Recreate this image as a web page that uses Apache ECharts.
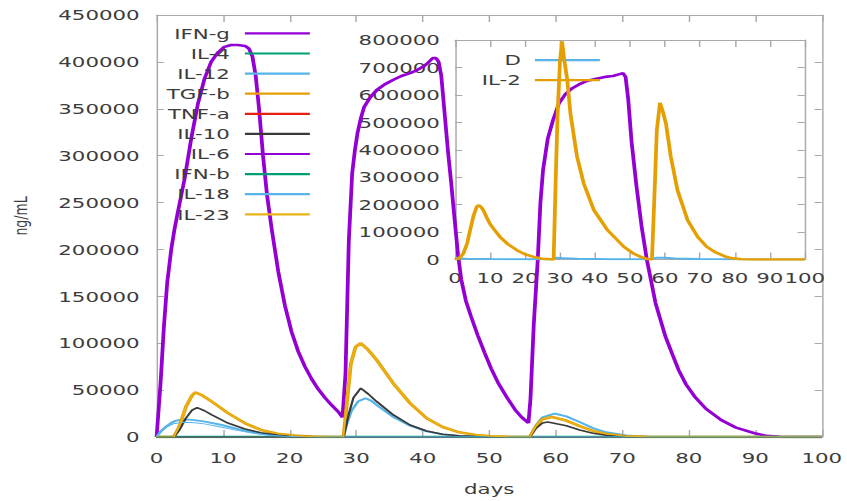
<!DOCTYPE html>
<html>
<head>
<meta charset="utf-8">
<script src="https://cdn.jsdelivr.net/npm/echarts@6/dist/echarts.min.js"></script>
<style>
  html, body { margin: 0; padding: 0; background: #fff; overflow: hidden; width: 847px; height: 501px; }
  /* the plot is laid out on a narrower canvas and widened, giving the wide gnuplot-style lettering */
  #chart { width: 584.14px; height: 501px; transform: scaleX(1.45); transform-origin: 0 0; }
</style>
</head>
<body>
<div id="chart"></div>
<script>
// ---- cytokine concentrations (ng/mL) over days, main panel ----
const mainNames = ['IFN-g', 'IL-4', 'IL-12', 'TGF-b', 'TNF-a', 'IL-10', 'IL-6', 'IFN-b', 'IL-18', 'IL-23'];

const ifnG = [
  [0,0],[0.6,58000],[1.1,118000],[1.6,165000],[2.2,200000],[2.7,222000],[3.2,240000],[4.2,275000],[5.2,318000],
  [6.2,355000],[7.2,382000],[8.2,400000],[9.2,410000],[10.2,416000],[11.2,418000],[12.2,418000],[13.3,417000],
  [13.9,414000],[14.4,406000],[14.9,385000],[15.4,350000],[16,300000],[16.6,258000],[17.3,222000],[18.3,176000],
  [19.3,140000],[20.3,112000],[21.3,91000],[22.3,75000],[23.3,62000],[24.3,51000],[25.3,42000],[26.3,34000],
  [27.3,27000],[27.95,21000],
  [28.4,68000],[28.9,210000],[29.4,281000],[29.8,305000],[30.2,324000],[30.7,340000],[31.2,352000],[32.1,362000],
  [33.1,370000],[34.3,376000],[35.6,381000],[36.8,385000],[38.1,388000],[39.1,391000],[40.1,395000],[40.8,399000],
  [41.5,404000],[42.0,404000],[42.4,400000],[42.8,385000],[43.3,345000],[43.8,305000],[44.3,270000],[44.8,232000],
  [45.3,195000],[45.8,168000],[46.5,145000],[47.3,128000],[48.3,108000],[49.3,90000],[50.3,73000],[51.4,57000],
  [52.6,43000],[53.9,29000],[54.9,21000],[55.9,15000],
  [56.2,40000],[56.7,120000],[57.3,189000],[57.7,250000],[58.1,285000],[58.8,318000],[59.6,338000],[60.5,356000],
  [61.5,366000],[62.5,372000],[63.5,376000],[64.8,380000],[66.1,382000],[67.4,384000],[68.6,385000],[69.6,387000],
  [70.1,388000],[70.5,384000],[70.9,360000],[71.4,315000],[72.1,270000],[72.9,225000],[73.7,189000],[75,143000],
  [76.5,107000],[77.6,87000],[78.5,71000],[79.6,56000],[80.9,43000],[82.6,30000],[84.9,18000],[87.1,10000],
  [89.9,4000],[91.7,1200],[93.7,300],[95.7,0],[100,0]
];

const il4 = [[0,0],[100,0]];

const il12 = [
  [0,0],[0.6,6000],[1.4,11000],[2.2,15000],[2.9,17400],[3.7,18500],[4.4,18800],[5.7,18000],[7.3,16400],[9.8,12800],
  [12.3,8200],[14.7,4600],[17.2,2100],[19.7,700],[22.2,200],[25,0],[28.1,0],
  [28.6,14000],[29.3,28000],[30.3,38000],[31.4,41300],[32.3,38500],[33.1,34000],[35.6,21300],[38.1,12100],
  [40.6,6000],[43,2800],[45.3,1200],[48.3,400],[52,0],[56.1,0],
  [57,12000],[58,21000],[59.8,25000],[61.6,22000],[63.6,16000],[65.6,9500],[67.6,5000],[70.6,1500],[73.6,300],
  [76.6,0],[100,0]
];

const tgfB = [
  [0,0],[2.6,0],[3.4,11000],[4.4,32000],[5.3,44000],[5.8,47500],[6.7,45000],[8.3,37700],[10.8,25200],[13.3,14600],
  [15.7,7500],[18.2,3500],[20.7,1500],[23.2,500],[26,0],[28.1,0],
  [28.7,43000],[29.2,78000],[29.9,96000],[30.7,100000],[31.8,93000],[33.1,82000],[35.6,57000],[38.1,36000],
  [40.6,20000],[43,10700],[45.5,5000],[48,2100],[50.3,800],[53,200],[56.1,0],
  [57,11000],[58,19000],[59.4,21300],[61.6,17500],[63.6,11500],[65.6,6500],[67.6,3200],[70.6,800],[73.6,100],
  [76,0],[100,0]
];

const tnfA = [[0,0],[100,0]];

const il10 = [
  [0,0],[2.6,0],[3.4,7000],[4.4,20000],[5.3,28500],[6.1,31300],[7.2,28000],[8.3,23500],[10.8,14600],[13.3,8500],
  [15.7,4600],[18.2,2100],[21.2,700],[24,100],[28.1,0],
  [28.5,12000],[28.9,25000],[29.6,42000],[30.7,52000],[31.8,46000],[33.1,37700],[35.6,23500],[38.1,12800],
  [40.6,6400],[43,3000],[45.5,1300],[48.3,400],[52,0],[56.1,0],
  [57,9000],[58,15000],[58.8,16000],[61.6,12000],[63.6,7500],[65.6,4000],[67.6,1800],[70.6,400],[73.6,0],[100,0]
];

const il6 = [[0,0],[100,0]];
const ifnB = [[0,0],[100,0]];

const il18 = [
  [0,0],[0.9,7000],[1.7,11500],[2.7,14500],[4.2,15800],[5.7,15300],[7.2,14000],[9.2,11200],[11.7,7600],
  [14.2,4400],[16.7,2100],[19.2,800],[22.2,200],[25,0],[100,0]
];

const il23 = [
  [0,0],[2.6,0],[3.4,11000],[4.4,32000],[5.3,44000],[5.8,47500],[6.7,45000],[8.3,37700],[10.8,25200],[13.3,14600],
  [15.7,7500],[18.2,3500],[20.7,1500],[23.2,500],[26,0],[28.1,0],
  [28.7,43000],[29.2,78000],[29.9,96000],[30.7,100000],[31.8,93000],[33.1,82000],[35.6,57000],[38.1,36000],
  [40.6,20000],[43,10700],[45.5,5000],[48,2100],[50.3,800],[53,200],[56.1,0],
  [57,11000],[58,19000],[59.4,21300],[61.6,17500],[63.6,11500],[65.6,6500],[67.6,3200],[70.6,800],[73.6,100],
  [76,0],[100,0]
];

// ---- inset panel: D and IL-2 ----
const insetNames = ['D', 'IL-2'];

const dLevel = [
  [0,6000],[3,3000],[10,1500],[20,800],[28,500],[29,6000],[31,5000],[35,2500],[45,1000],[56,600],
  [57.5,6000],[60,6500],[63,3500],[70,1500],[80,500],[100,0]
];

const il2 = [
  [0,0],[1,3000],[2.4,22000],[3.5,60000],[4.3,106000],[5.3,160000],[6.2,192000],[6.7,198000],[7.4,192000],
  [8.1,180000],[9,155000],[10,130000],[11.5,104000],[12.9,82000],[15,57000],[17.7,34000],[20,19000],[22.5,9500],
  [25,3000],[27.5,500],[28.2,0],[28.7,250000],[29.3,520000],[30,720000],[30.6,795000],[31.2,730000],[32.1,654000],
  [33,532000],[34.9,374000],[36.8,277000],[39.7,180000],[43.6,107000],[48.3,46000],[51,22000],[53.1,9500],
  [55,2000],[56.3,0],[57,228000],[57.7,472000],[58.6,571000],[59.4,540000],[60.3,496000],[61.7,374000],
  [63.6,253000],[66.5,143000],[69.4,82000],[72,46000],[74.2,28000],[77,12000],[79,5000],[82,1000],[85,0],[100,0]
];

// ---- axis ticks ----
const mainXTicks = { min: 0, max: 100, step: 10 };
const mainYTicks = { min: 0, max: 450000, step: 50000 };
const insetXTicks = { min: 0, max: 100, step: 10 };
const insetYTicks = { min: 0, max: 800000, step: 100000 };

// ---- styling ----
const FONT = 'DejaVu Sans';
const TEXT = '#3c3c3c';
const FRAME = '#a9a9a9';
const FS = 14.7;

const mainSeriesData = [ifnG, il4, il12, tgfB, tnfA, il10, il6, ifnB, il18, il23];
const mainColors = ['#9400d3', '#009e73', '#56b4e9', '#e69f00', '#e51e10', '#3a3a3a', '#9400d3', '#009e73', '#56b4e9', '#e8b418'];
const mainWidths = [2.6, 2.6, 2, 2.6, 2.2, 1.6, 1, 1.4, 1, 1.2];

const insetSeriesData = [dLevel, il2];
const insetColors = ['#56b4e9', '#e69f00'];
const insetWidths = [2, 2.6];

function valueAxis(extra, ticks, tickLen, showLabel, labelMargin) {
  return Object.assign({
    type: 'value',
    min: ticks.min,
    max: ticks.max,
    interval: ticks.step,
    axisLine: { show: true, onZero: false, lineStyle: { color: FRAME, width: 1 } },
    axisTick: { show: true, inside: true, length: tickLen, lineStyle: { color: FRAME, width: 1 } },
    axisLabel: {
      show: showLabel, margin: labelMargin, color: TEXT, fontFamily: FONT, fontSize: FS,
      formatter: v => String(v)
    },
    splitLine: { show: false }
  }, extra);
}

function lineSeries(name, data, color, width, xi, yi, z) {
  return {
    name: name,
    type: 'line',
    data: data,
    xAxisIndex: xi,
    yAxisIndex: yi,
    symbol: 'none',
    showSymbol: false,
    smooth: false,
    z: z,
    lineStyle: { color: color, width: width },
    itemStyle: { color: color },
    emphasis: { disabled: true }
  };
}

const series = [];
mainNames.forEach((n, i) => series.push(lineSeries(n, mainSeriesData[i], mainColors[i], mainWidths[i], 0, 0, 2)));
insetNames.forEach((n, i) => series.push(lineSeries(n, insetSeriesData[i], insetColors[i], insetWidths[i], 2, 2, 4)));

// legend keys are short horizontal strokes in each series colour
function legendKeys(names, colors) {
  return names.map((n, i) => ({
    name: n,
    icon: 'rect',
    itemStyle: { color: colors[i] }
  }));
}

const option = {
  animation: false,
  backgroundColor: '#ffffff',
  grid: [
    { left: 104.14, right: 17.24, top: 15, bottom: 64 },
    { left: 313.8, right: 28.97, top: 40, bottom: 241.5 }
  ],
  xAxis: [
    valueAxis({ gridIndex: 0, position: 'bottom', name: 'days', nameLocation: 'middle', nameGap: 44,
      nameTextStyle: { color: TEXT, fontFamily: FONT, fontSize: FS } }, mainXTicks, 7, true, 13),
    valueAxis({ gridIndex: 0, position: 'top' }, mainXTicks, 7, false, 8),
    valueAxis({ gridIndex: 1, position: 'bottom' }, insetXTicks, 7, true, 11),
    valueAxis({ gridIndex: 1, position: 'top' }, insetXTicks, 7, false, 8)
  ],
  yAxis: [
    valueAxis({ gridIndex: 0, position: 'left', name: 'ng/mL', nameLocation: 'middle', nameGap: 87,
      nameTextStyle: { color: TEXT, fontFamily: FONT, fontSize: 12.5, padding: [0, 0, 0, 20] } }, mainYTicks, 5, true, 11.7),
    valueAxis({ gridIndex: 0, position: 'right' }, mainYTicks, 5, false, 8),
    valueAxis({ gridIndex: 1, position: 'left' }, insetYTicks, 5, true, 10.4),
    valueAxis({ gridIndex: 1, position: 'right' }, insetYTicks, 5, false, 8)
  ],
  legend: [
    {
      data: legendKeys(mainNames, mainColors),
      orient: 'vertical',
      align: 'right',
      right: 370.3,
      top: 25.9,
      padding: 0,
      itemWidth: 44.8,
      itemHeight: 2.2,
      itemGap: 5.1,
      selectedMode: false,
      textStyle: { color: TEXT, fontFamily: FONT, fontSize: FS, padding: [0, 5.4, 0, 0] }
    },
    {
      data: legendKeys(insetNames, insetColors),
      orient: 'vertical',
      align: 'right',
      right: 170.3,
      top: 52.6,
      padding: 0,
      itemWidth: 44.8,
      itemHeight: 2.2,
      itemGap: 5.1,
      selectedMode: false,
      textStyle: { color: TEXT, fontFamily: FONT, fontSize: FS, padding: [0, 4.7, 0, 0] }
    }
  ],
  series: series
};

const chart = echarts.init(document.getElementById('chart'), null, { renderer: 'svg' });
chart.setOption(option);
</script>
</body>
</html>
